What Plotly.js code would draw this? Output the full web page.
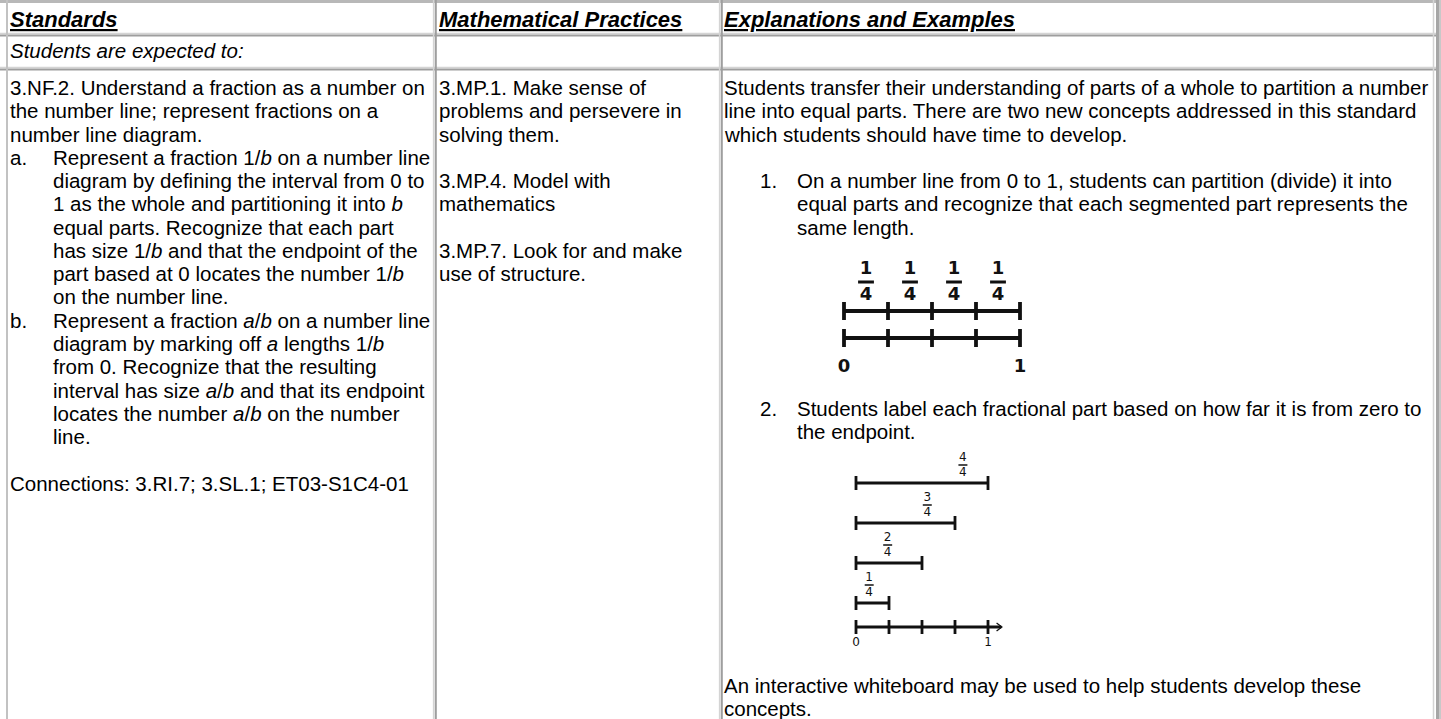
<!DOCTYPE html>
<html>
<head>
<meta charset="utf-8">
<script src="https://cdn.plot.ly/plotly-3.0.1.min.js"></script>
<style>
  html, body { margin: 0; padding: 0; background: #fff; }
  #plot { width: 1441px; height: 719px; }
</style>
</head>
<body>
<div id="plot"></div>
<script>
/*
Table text, one entry per printed line.
"x.\t..." = list label + item text, "\t..." = hanging indent
*/
var headers = ["Standards", "Mathematical Practices", "Explanations and Examples"];
var subHeader = "Students are expected to:";

var standardsLines = [
  "3.NF.2. Understand a fraction as a number on",
  "the number line; represent fractions on a",
  "number line diagram.",
  "a.\tRepresent a fraction 1/<i>b</i> on a number line",
  "\tdiagram by defining the interval from 0 to",
  "\t1 as the whole and partitioning it into <i>b</i>",
  "\tequal parts. Recognize that each part",
  "\thas size 1/<i>b</i> and that the endpoint of the",
  "\tpart based at 0 locates the number 1/<i>b</i>",
  "\ton the number line.",
  "b.\tRepresent a fraction <i>a</i>/<i>b</i> on a number line",
  "\tdiagram by marking off <i>a</i> lengths 1/<i>b</i>",
  "\tfrom 0. Recognize that the resulting",
  "\tinterval has size <i>a</i>/<i>b</i> and that its endpoint",
  "\tlocates the number <i>a</i>/<i>b</i> on the number",
  "\tline.",
  "",
  "Connections: 3.RI.7; 3.SL.1; ET03-S1C4-01"
];

var practicesLines = [
  "3.MP.1. Make sense of",
  "problems and persevere in",
  "solving them.",
  "",
  "3.MP.4. Model with",
  "mathematics",
  "",
  "3.MP.7. Look for and make",
  "use of structure."
];

var explanationIntro = [
  "Students transfer their understanding of parts of a whole to partition a number",
  "line into equal parts. There are two new concepts addressed in this standard",
  "which students should have time to develop.",
  "",
  "1.\tOn a number line from 0 to 1, students can partition (divide) it into",
  "\tequal parts and recognize that each segmented part represents the",
  "\tsame length."
];
var explanationStep2 = [
  "2.\tStudents label each fractional part based on how far it is from zero to",
  "\tthe endpoint."
];
var explanationOutro = [
  "An interactive whiteboard may be used to help students develop these",
  "concepts."
];

// number line diagrams
var quarterTicks = [0, 0.25, 0.5, 0.75, 1];
var endLabels = ["0", "1"];
var partNumerators = ["1", "1", "1", "1"];
var denominator = "4";
var lengthEnds = [1, 0.75, 0.5, 0.25];
var lengthNumerators = ["4", "3", "2", "1"];
var lengthLabelX = [0.81, 0.54, 0.24, 0.10];

/*
Layout (page pixels)
*/
var W = 1441, H = 719;
var FONT = "Liberation Sans, Arial, Helvetica, sans-serif";
var DIAG_FONT = "DejaVu Sans, Verdana, sans-serif";
var BODY = 20.5, LINE = 23.27, FIRST = 87.5;
var INK = "#111";

var annotations = [];

function addText(x, y, text, size) {
  annotations.push({
    xref: "x", yref: "y", x: x, y: y, text: text,
    showarrow: false, xanchor: "left", yanchor: "middle",
    borderpad: 0, borderwidth: 0,
    font: { family: FONT, size: size || BODY, color: "#000" }
  });
}

function addLines(lines, y0, x, labelX, itemX) {
  lines.forEach(function (s, i) {
    if (!s) return;
    var y = y0 + i * LINE;
    var parts = s.split("\t");
    if (parts.length === 1) {
      addText(x, y, s);
    } else {
      if (parts[0]) addText(labelX, y, parts[0]);
      addText(itemX, y, parts[1]);
    }
  });
}

var colX = [10, 439, 724];
headers.forEach(function (h, i) {
  addText(colX[i], 19, "<b><i><u>" + h + "</u></i></b>", 22);
});
addText(colX[0], 50, "<i>" + subHeader + "</i>");

addLines(standardsLines, FIRST, colX[0], colX[0], 53);
addLines(practicesLines, FIRST, colX[1], colX[1], colX[1]);
addLines(explanationIntro, FIRST, colX[2], 760, 797);
addLines(explanationStep2, 408, colX[2], 760, 797);
addLines(explanationOutro, 685, colX[2], colX[2], colX[2]);

/*
Diagram 1: two number lines split in quarters
*/
var d1 = { x0: 844, unit: 176, rows: [311, 338] };
var d1Traces = [];
(function () {
  var lx = [], ly = [], tx = [], ty = [];
  d1.rows.forEach(function (y) {
    lx.push(0, 1, null); ly.push(y, y, null);
    quarterTicks.forEach(function (t) {
      tx.push(t, t, null); ty.push(y - 9, y + 9, null);
    });
  });
  var mids = [], bx = [], by = [];
  for (var i = 0; i < quarterTicks.length - 1; i++) {
    var m = (quarterTicks[i] + quarterTicks[i + 1]) / 2;
    mids.push(m);
    bx.push(m - 0.045, m + 0.045, null);
    by.push(d1.rows[0] - 29, d1.rows[0] - 29, null);
  }
  var lineStyle = { color: INK, width: 3.8 };
  d1Traces.push(
    { x: lx, y: ly, mode: "lines", line: lineStyle },
    { x: tx, y: ty, mode: "lines", line: lineStyle },
    { x: bx, y: by, mode: "lines", line: { color: INK, width: 2.8 } },
    { x: mids, y: mids.map(function () { return d1.rows[0] - 41.5; }), mode: "text",
      text: partNumerators.map(function (n) { return "<b>" + n + "</b>"; }) },
    { x: mids, y: mids.map(function () { return d1.rows[0] - 16; }), mode: "text",
      text: mids.map(function () { return "<b>" + denominator + "</b>"; }) },
    { x: [0, 1], y: [d1.rows[1] + 29, d1.rows[1] + 29], mode: "text",
      text: endLabels.map(function (n) { return "<b>" + n + "</b>"; }) }
  );
  d1Traces.forEach(function (t) {
    t.xaxis = "x2"; t.yaxis = "y"; t.hoverinfo = "skip"; t.showlegend = false;
    t.cliponaxis = false;
    if (t.mode === "text") t.textfont = { family: DIAG_FONT, size: 18, color: INK };
  });
})();

/*
Diagram 2: lengths 1/4 .. 4/4 over a number line
*/
var d2 = { x0: 856, unit: 132, top: 483, step: 40, axisY: 627 };
var d2Traces = [];
(function () {
  var lx = [], ly = [], tx = [], ty = [], bx = [], by = [];
  var ny = [], dy = [];
  lengthEnds.forEach(function (e, i) {
    var y = d2.top + i * d2.step;
    lx.push(0, e, null); ly.push(y, y, null);
    tx.push(0, 0, null, e, e, null); ty.push(y - 7, y + 7, null, y - 7, y + 7, null);
    var c = lengthLabelX[i];
    bx.push(c - 0.034, c + 0.034, null); by.push(y - 18, y - 18, null);
    ny.push(y - 25); dy.push(y - 10.5);
  });
  var ay = d2.axisY;
  lx.push(0, 1.1, null); ly.push(ay, ay, null);
  quarterTicks.forEach(function (t) {
    tx.push(t, t, null); ty.push(ay - 7, ay + 7, null);
  });
  var lineStyle = { color: INK, width: 2.8 };
  d2Traces.push(
    { x: lx, y: ly, mode: "lines", line: lineStyle },
    { x: tx, y: ty, mode: "lines", line: lineStyle },
    { x: [1.065, 1.105, 1.065], y: [ay - 4, ay, ay + 4], mode: "lines", line: { color: INK, width: 1.3 } },
    { x: bx, y: by, mode: "lines", line: { color: INK, width: 1.6 } },
    { x: lengthLabelX, y: ny, mode: "text", text: lengthNumerators },
    { x: lengthLabelX, y: dy, mode: "text", text: lengthLabelX.map(function () { return denominator; }) },
    { x: [0, 1], y: [ay + 16, ay + 16], mode: "text", text: endLabels }
  );
  d2Traces.forEach(function (t) {
    t.xaxis = "x3"; t.yaxis = "y"; t.hoverinfo = "skip"; t.showlegend = false;
    t.cliponaxis = false;
    if (t.mode === "text") t.textfont = { family: DIAG_FONT, size: 12, color: INK };
  });
})();

/*
Table borders
*/
function hLine(y, color, width) {
  return { type: "line", xref: "x", yref: "y", x0: 0, x1: W, y0: y, y1: y,
           line: { color: color, width: width }, layer: "below" };
}
function vLine(x, color, width) {
  return { type: "line", xref: "x", yref: "y", x0: x, x1: x, y0: 0, y1: H,
           line: { color: color, width: width }, layer: "below" };
}
var LIGHT = "#d4d4d4", DARK = "#9e9e9e";
var shapes = [
  hLine(1.5, "#b8b8b8", 3),
  hLine(33.6, LIGHT, 1.5), hLine(35.6, DARK, 2),
  hLine(67.6, LIGHT, 1.5), hLine(69.6, DARK, 2),
  vLine(7, "#c2c2c2", 2),
  vLine(433.6, LIGHT, 1.5), vLine(435.8, DARK, 2),
  vLine(719.6, LIGHT, 1.5), vLine(721.8, DARK, 2),
  vLine(1433.5, LIGHT, 1.5), vLine(1437.5, "#a6a6a6", 3), vLine(1440, "#c8c8c8", 2)
];

function diagAxis(d, lo, hi) {
  return {
    domain: [(d.x0 + lo * d.unit) / W, (d.x0 + hi * d.unit) / W],
    range: [lo, hi], anchor: "y", visible: false, fixedrange: true
  };
}

var layout = {
  width: W, height: H,
  margin: { l: 0, r: 0, t: 0, b: 0 },
  paper_bgcolor: "#fff", plot_bgcolor: "rgba(0,0,0,0)",
  showlegend: false,
  xaxis: { range: [0, W], domain: [0, 1], visible: false, fixedrange: true },
  yaxis: { range: [H, 0], domain: [0, 1], visible: false, fixedrange: true },
  xaxis2: diagAxis(d1, -0.2, 1.2),
  xaxis3: diagAxis(d2, -0.2, 1.3),
  shapes: shapes,
  annotations: annotations
};

// empty trace keeps the main pixel subplot alive
var base = { x: [0], y: [0], mode: "markers", marker: { opacity: 0 }, hoverinfo: "skip", showlegend: false };

Plotly.newPlot("plot", [base].concat(d1Traces, d2Traces), layout, { staticPlot: true, displayModeBar: false });
</script>
</body>
</html>
